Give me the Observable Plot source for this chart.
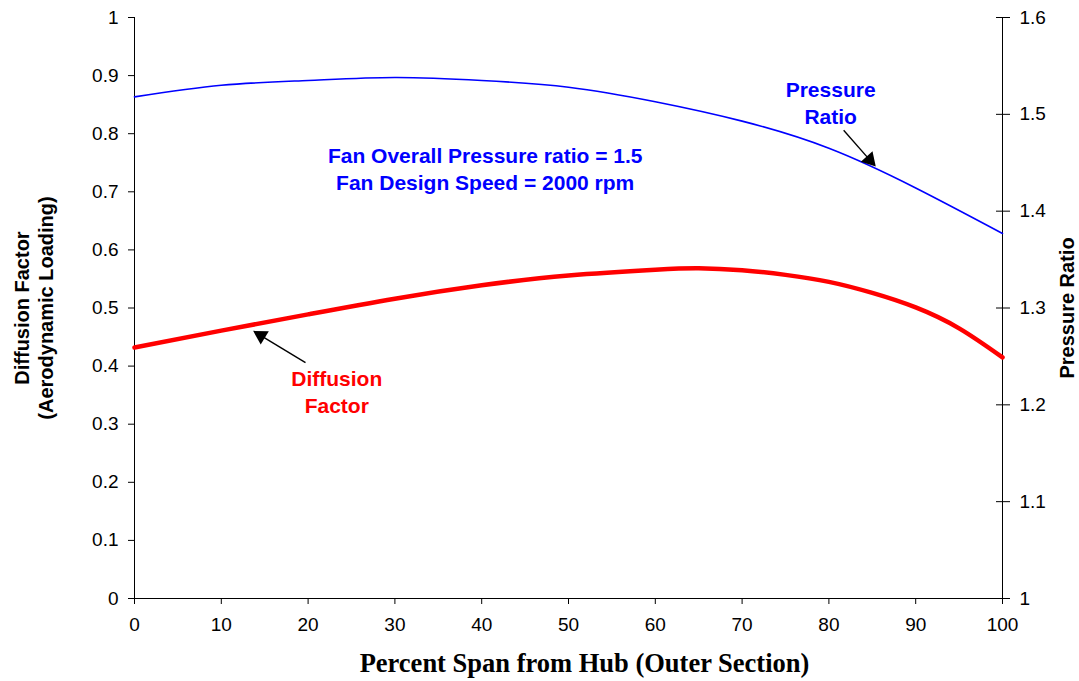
<!DOCTYPE html>
<html>
<head>
<meta charset="utf-8">
<script src="https://cdn.jsdelivr.net/npm/d3@7"></script>
<script src="https://cdn.jsdelivr.net/npm/@observablehq/plot@0.6"></script>
<style>
  html, body { margin: 0; padding: 0; background: white; }
  #chart { width: 1079px; height: 681px; }
</style>
</head>
<body>
<div id="chart"></div>
<script>
// ---- Data ----
const span = [0, 10, 20, 30, 40, 50, 60, 65, 70, 75, 80, 85, 90, 95, 100];
const diffusionFactor = [0.432, 0.461, 0.489, 0.516, 0.539, 0.556, 0.566, 0.5685, 0.565, 0.557, 0.545, 0.526, 0.501, 0.465, 0.415];

const spanPR = [0, 10, 20, 30, 40, 50, 60, 70, 80, 90, 100];
const pressureRatio = [1.518, 1.530, 1.535, 1.538, 1.535, 1.528, 1.513, 1.493, 1.465, 1.424, 1.377];

const xTicks = [0, 10, 20, 30, 40, 50, 60, 70, 80, 90, 100];
const leftTicks = [0, 0.1, 0.2, 0.3, 0.4, 0.5, 0.6, 0.7, 0.8, 0.9, 1];
const rightTicks = [1, 1.1, 1.2, 1.3, 1.4, 1.5, 1.6];

// annotations (x in % span, y on left axis scale)
const noteText = ["Fan Overall Pressure ratio = 1.5\nFan Design Speed = 2000 rpm", "Pressure\nRatio", "Diffusion\nFactor"];
const noteX = [40.4, 80.2, 23.3];
const noteY = [0.742, 0.855, 0.357];
const noteColor = ["#0000ff", "#0000ff", "#ff0000"];

const arrowX1 = [81.7, 19.7];
const arrowY1 = [0.806, 0.406];
const arrowX2 = [84.7, 14.56];
const arrowY2 = [0.755, 0.4526];
const arrowAngle = [138, -59];

// ---- Build tables ----
const prToLeft = pr => (pr - 1) / 0.6;
const dfData = span.map((s, i) => ({x: s, y: diffusionFactor[i]}));
const prData = spanPR.map((s, i) => ({x: s, y: prToLeft(pressureRatio[i])}));
const notes = noteText.map((t, i) => ({text: t, x: noteX[i], y: noteY[i], color: noteColor[i]}));
const arrows = arrowX1.map((x, i) => ({x1: x, y1: arrowY1[i], x2: arrowX2[i], y2: arrowY2[i], a: arrowAngle[i]}));

const sans = "'Liberation Sans', Arial, Helvetica, sans-serif";

const chart = Plot.plot({
  width: 1079,
  height: 681,
  marginLeft: 134,
  marginRight: 77,
  marginTop: 17,
  marginBottom: 83,
  x: {domain: [0, 100]},
  y: {domain: [0, 1]},
  style: {fontFamily: sans, fontSize: "19px", background: "white", color: "black"},
  marks: [
    // axis lines
    Plot.ruleY([0], {stroke: "black", strokeWidth: 1}),
    Plot.ruleX([0], {stroke: "black", strokeWidth: 1}),
    Plot.ruleX([100], {stroke: "black", strokeWidth: 1}),
    // axes
    Plot.axisX({ticks: xTicks, tickSize: 6, tickPadding: 13, label: null, fontSize: 19, tickFormat: d => String(d)}),
    Plot.axisY({anchor: "left", ticks: leftTicks, tickSize: 6, tickPadding: 10, label: null, fontSize: 19, tickFormat: d => String(+d.toFixed(1))}),
    Plot.axisY({anchor: "right", ticks: rightTicks.map(prToLeft), tickSize: 7, tickPadding: 10, label: null, fontSize: 19, tickFormat: d => String(+(1 + 0.6 * d).toFixed(1))}),
    Plot.axisY({anchor: "right", ticks: rightTicks.map(prToLeft), tickSize: -7, label: null, tickFormat: () => ""}),
    // data lines
    Plot.line(prData, {x: "x", y: "y", stroke: "#0000ff", strokeWidth: 1.6, curve: "natural"}),
    Plot.line(dfData, {x: "x", y: "y", stroke: "#ff0000", strokeWidth: 4.5, curve: "natural"}),
    // annotations
    Plot.text(notes, {x: "x", y: "y", text: "text", fill: "color", fontSize: 21, fontWeight: "bold", lineHeight: 1.29, textAnchor: "middle", lineAnchor: "middle"}),
    Plot.link(arrows, {x1: "x1", y1: "y1", x2: "x2", y2: "y2", stroke: "black", strokeWidth: 1.4}),
    Plot.dot(arrows, {x: "x2", y: "y2", symbol: "triangle2", r: 7.5, fill: "black", rotate: "a"}),
    // axis titles
    Plot.text(["Diffusion Factor\n(Aerodynamic Loading)"], {frameAnchor: "left", dx: -101, rotate: -90, text: d => d, fontSize: 20, fontWeight: "bold", lineHeight: 1.2, textAnchor: "middle", lineAnchor: "middle"}),
    Plot.text(["Pressure Ratio"], {frameAnchor: "right", dx: 65, rotate: -90, text: d => d, fontSize: 20, fontWeight: "bold", textAnchor: "middle", lineAnchor: "middle"}),
    Plot.text(["Percent Span from Hub (Outer Section)"], {frameAnchor: "bottom", dx: 16, dy: 65, text: d => d, fontSize: 26.5, fontWeight: "bold", fontFamily: "'Liberation Serif', 'Times New Roman', serif", textAnchor: "middle", lineAnchor: "middle"})
  ]
});

document.getElementById("chart").appendChild(chart);
</script>
</body>
</html>
